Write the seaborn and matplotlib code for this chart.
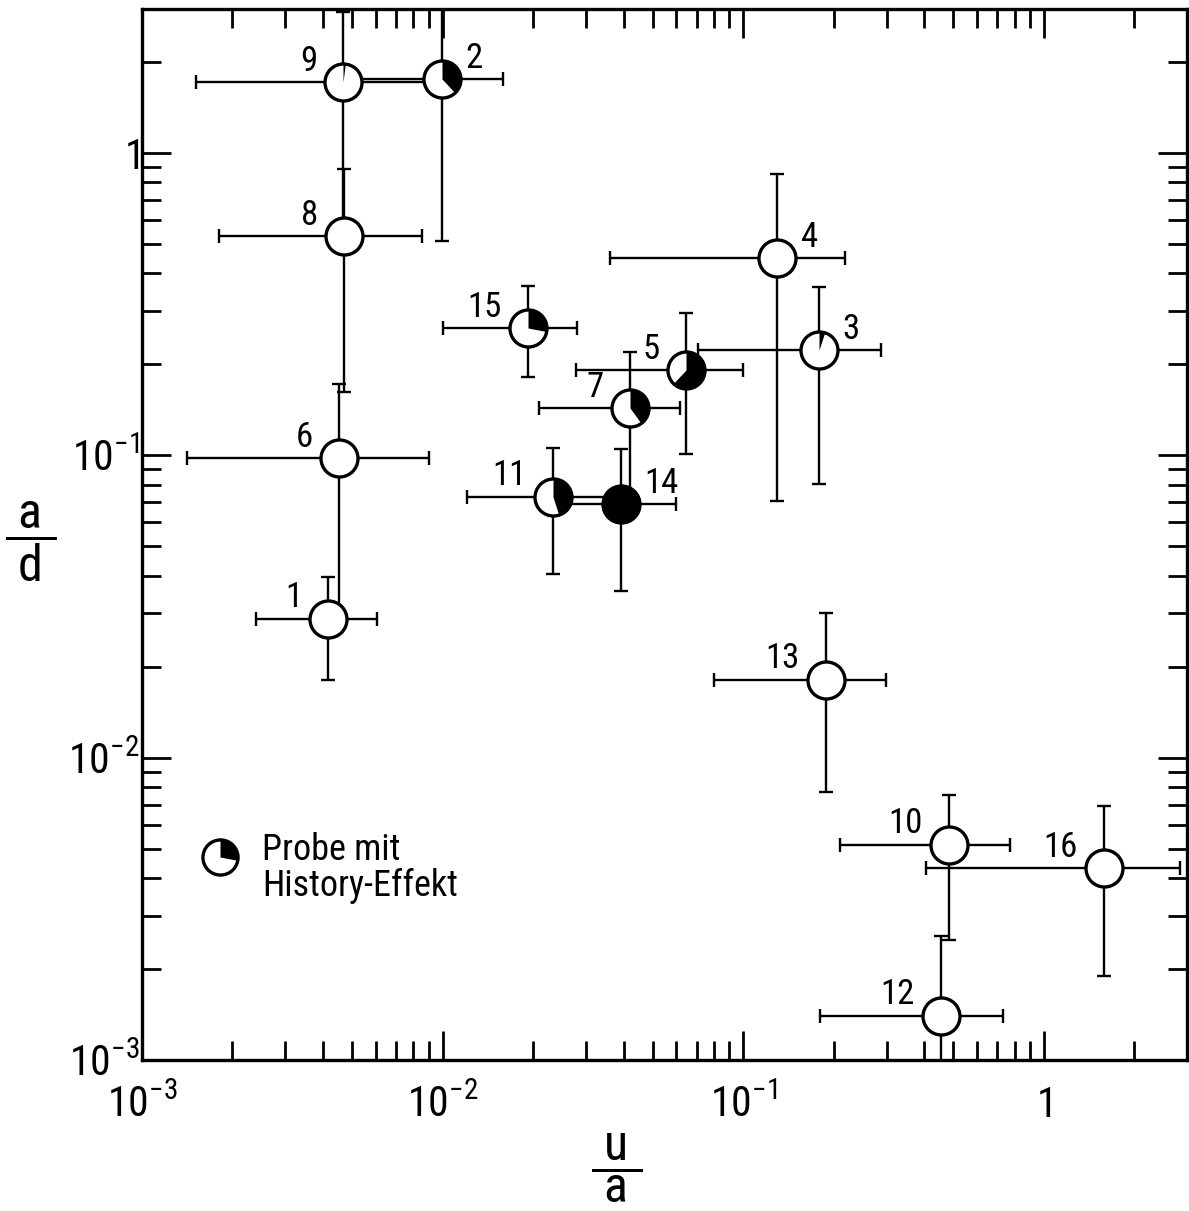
import numpy as np
import pandas as pd
import matplotlib
matplotlib.use("Agg")
import matplotlib.pyplot as plt
from matplotlib.path import Path
from matplotlib.ticker import FixedLocator, FixedFormatter, LogLocator, NullFormatter
from matplotlib import font_manager
import seaborn as sns

# ---- data: sample number, u/a and a/d with their error ranges ----
sample = [1, 2, 3, 4, 5, 6, 7, 8, 9, 10, 11, 12, 13, 14, 15, 16]
u_a = [0.00417, 0.00995, 0.1787, 0.1298, 0.0647, 0.00454, 0.0419, 0.00471,
       0.00468, 0.486, 0.02325, 0.454, 0.188, 0.0391, 0.0192, 1.588]
u_a_lo = [0.00240, 0.00468, 0.071, 0.0362, 0.0279, 0.00141, 0.0210, 0.0018,
          0.00151, 0.210, 0.01205, 0.180, 0.0802, 0.02325, 0.01004, 0.405]
u_a_hi = [0.00607, 0.0159, 0.287, 0.218, 0.100, 0.00902, 0.0618, 0.00855,
          0.00995, 0.775, 0.0391, 0.735, 0.298, 0.060, 0.0281, 2.84]
a_d = [0.0288, 1.76, 0.223, 0.449, 0.191, 0.0977, 0.143, 0.531,
       1.72, 0.00515, 0.0731, 0.0014, 0.0181, 0.0689, 0.263, 0.00432]
a_d_lo = [0.0181, 0.512, 0.0807, 0.0705, 0.1007, 0.0295, 0.0689, 0.162,
          0.531, 0.00249, 0.0404, 0.0007, 0.0077, 0.0355, 0.181, 0.0019]
a_d_hi = [0.0397, 5.0, 0.360, 0.851, 0.295, 0.172, 0.219, 0.885,
          2.93, 0.00754, 0.106, 0.00257, 0.030, 0.1047, 0.363, 0.00693]
# share of the symbol drawn black (history effect)
history_share = [0, 0.38, 0.05, 0, 0.62, 0, 0.40, 0, 0.02, 0, 0.45, 0, 0, 1.0, 0.28, 0]

x_ticks = [1e-3, 1e-2, 1e-1, 1]
x_ticklabels = [r"$10^{-3}$", r"$10^{-2}$", r"$10^{-1}$", r"$1$"]
y_ticks = [1e-3, 1e-2, 1e-1, 1]
y_ticklabels = [r"$10^{-3}$", r"$10^{-2}$", r"$10^{-1}$", r"$1\enspace$"]
legend_text = "Probe mit\nHistory-Effekt"

df = pd.DataFrame({"sample": sample, "u_a": u_a, "u_a_lo": u_a_lo, "u_a_hi": u_a_hi,
                   "a_d": a_d, "a_d_lo": a_d_lo, "a_d_hi": a_d_hi,
                   "share": history_share})

# ---- style ----
sns.set_style("ticks")
available = {f.name for f in font_manager.fontManager.ttflist}
FONT = next((f for f in ["Liberation Sans Narrow", "Roboto Condensed", "Roboto", "DejaVu Sans"]
             if f in available), "DejaVu Sans")
plt.rcParams["font.family"] = [FONT, "DejaVu Sans"]
plt.rcParams["mathtext.fontset"] = "custom"
plt.rcParams["mathtext.rm"] = FONT
plt.rcParams["mathtext.it"] = FONT
plt.rcParams["mathtext.bf"] = FONT
for key in ("text.color", "axes.labelcolor", "xtick.color", "ytick.color",
            "xtick.labelcolor", "ytick.labelcolor", "axes.edgecolor"):
    plt.rcParams[key] = "black"

fig = plt.figure(figsize=(11.89, 12.11), dpi=100)
ax = fig.add_axes([0.1194, 0.1247, 0.879, 0.868])

MS = 710          # marker area (pt^2)
EDGE = 2.4        # circle outline width


def wedge_path(share):
    """Pie slice starting at 12 o'clock, running clockwise."""
    t = np.linspace(0, 2 * np.pi * share, max(int(share * 120), 4))
    verts = [(0.0, 0.0)] + [(np.sin(a), np.cos(a)) for a in t] + [(0.0, 0.0)]
    codes = [Path.MOVETO] + [Path.LINETO] * len(t) + [Path.CLOSEPOLY]
    return Path(verts, codes)


# error bars
ax.errorbar(df["u_a"], df["a_d"],
            xerr=[df["u_a"] - df["u_a_lo"], df["u_a_hi"] - df["u_a"]],
            yerr=[df["a_d"] - df["a_d_lo"], df["a_d_hi"] - df["a_d"]],
            fmt="none", ecolor="black", elinewidth=1.7, capsize=5, capthick=1.7,
            zorder=2)

# open circles
sns.scatterplot(data=df, x="u_a", y="a_d", marker="o", s=MS, color="white",
                edgecolor="black", linewidth=EDGE, zorder=3, legend=False, ax=ax)

# black sectors
for _, r in df.iterrows():
    if r["share"] <= 0:
        continue
    mk = "o" if r["share"] >= 1 else wedge_path(r["share"])
    ax.scatter([r["u_a"]], [r["a_d"]], marker=mk, s=MS, c="black",
               linewidths=0, zorder=4)

# sample numbers
right_side = {2, 3, 4, 14}
for _, r in df.iterrows():
    n = int(r["sample"])
    if n in right_side:
        off, ha = (17, 15), "left"
    else:
        off, ha = (-19, 15), "right"
    ax.annotate(str(n), (r["u_a"], r["a_d"]), xytext=off, textcoords="offset points",
                ha=ha, va="center", fontsize=25, zorder=5)

# key symbol and text
ax.scatter([0.0746], [0.193], transform=ax.transAxes, marker="o", s=MS * 0.9,
           color="white", edgecolor="black", linewidth=EDGE, zorder=3, clip_on=False)
ax.scatter([0.0746], [0.193], transform=ax.transAxes, marker=wedge_path(0.28),
           s=MS * 0.9, c="black", linewidths=0, zorder=4, clip_on=False)
ax.text(0.1147, 0.183, legend_text, transform=ax.transAxes, ha="left", va="center",
        fontsize=26, linespacing=1.0)

# axes
ax.set_xscale("log")
ax.set_yscale("log")
ax.set_xlim(1e-3, 3)
ax.set_ylim(1e-3, 3)

for axis, ticks, labels in ((ax.xaxis, x_ticks, x_ticklabels), (ax.yaxis, y_ticks, y_ticklabels)):
    axis.set_major_locator(FixedLocator(ticks))
    axis.set_major_formatter(FixedFormatter(labels))
    axis.set_minor_locator(LogLocator(base=10, subs=np.arange(2, 10), numticks=20))
    axis.set_minor_formatter(NullFormatter())

ax.tick_params(which="both", direction="in", top=True, right=True,
               labeltop=False, labelright=False, width=2, color="black")
ax.tick_params(which="major", length=21, labelsize=30)
ax.tick_params(which="minor", length=14)
ax.tick_params(axis="x", which="major", pad=18)
ax.tick_params(axis="y", which="major", pad=2)

for sp in ax.spines.values():
    sp.set_linewidth(2.4)
    sp.set_color("black")

ax.set_xlabel(r"$\dfrac{\ \mathrm{u}\ }{\ \mathrm{a}\ }$", fontsize=36, va="center")
ax.xaxis.set_label_coords(0.454, -0.103)
ax.set_ylabel(r"$\dfrac{\ \mathrm{a}\ }{\ \mathrm{d}\ }$", fontsize=36, rotation=0,
              va="center", ha="center")
ax.yaxis.set_label_coords(-0.106, 0.493)

fig.savefig("out.png", dpi=100, facecolor="white")
